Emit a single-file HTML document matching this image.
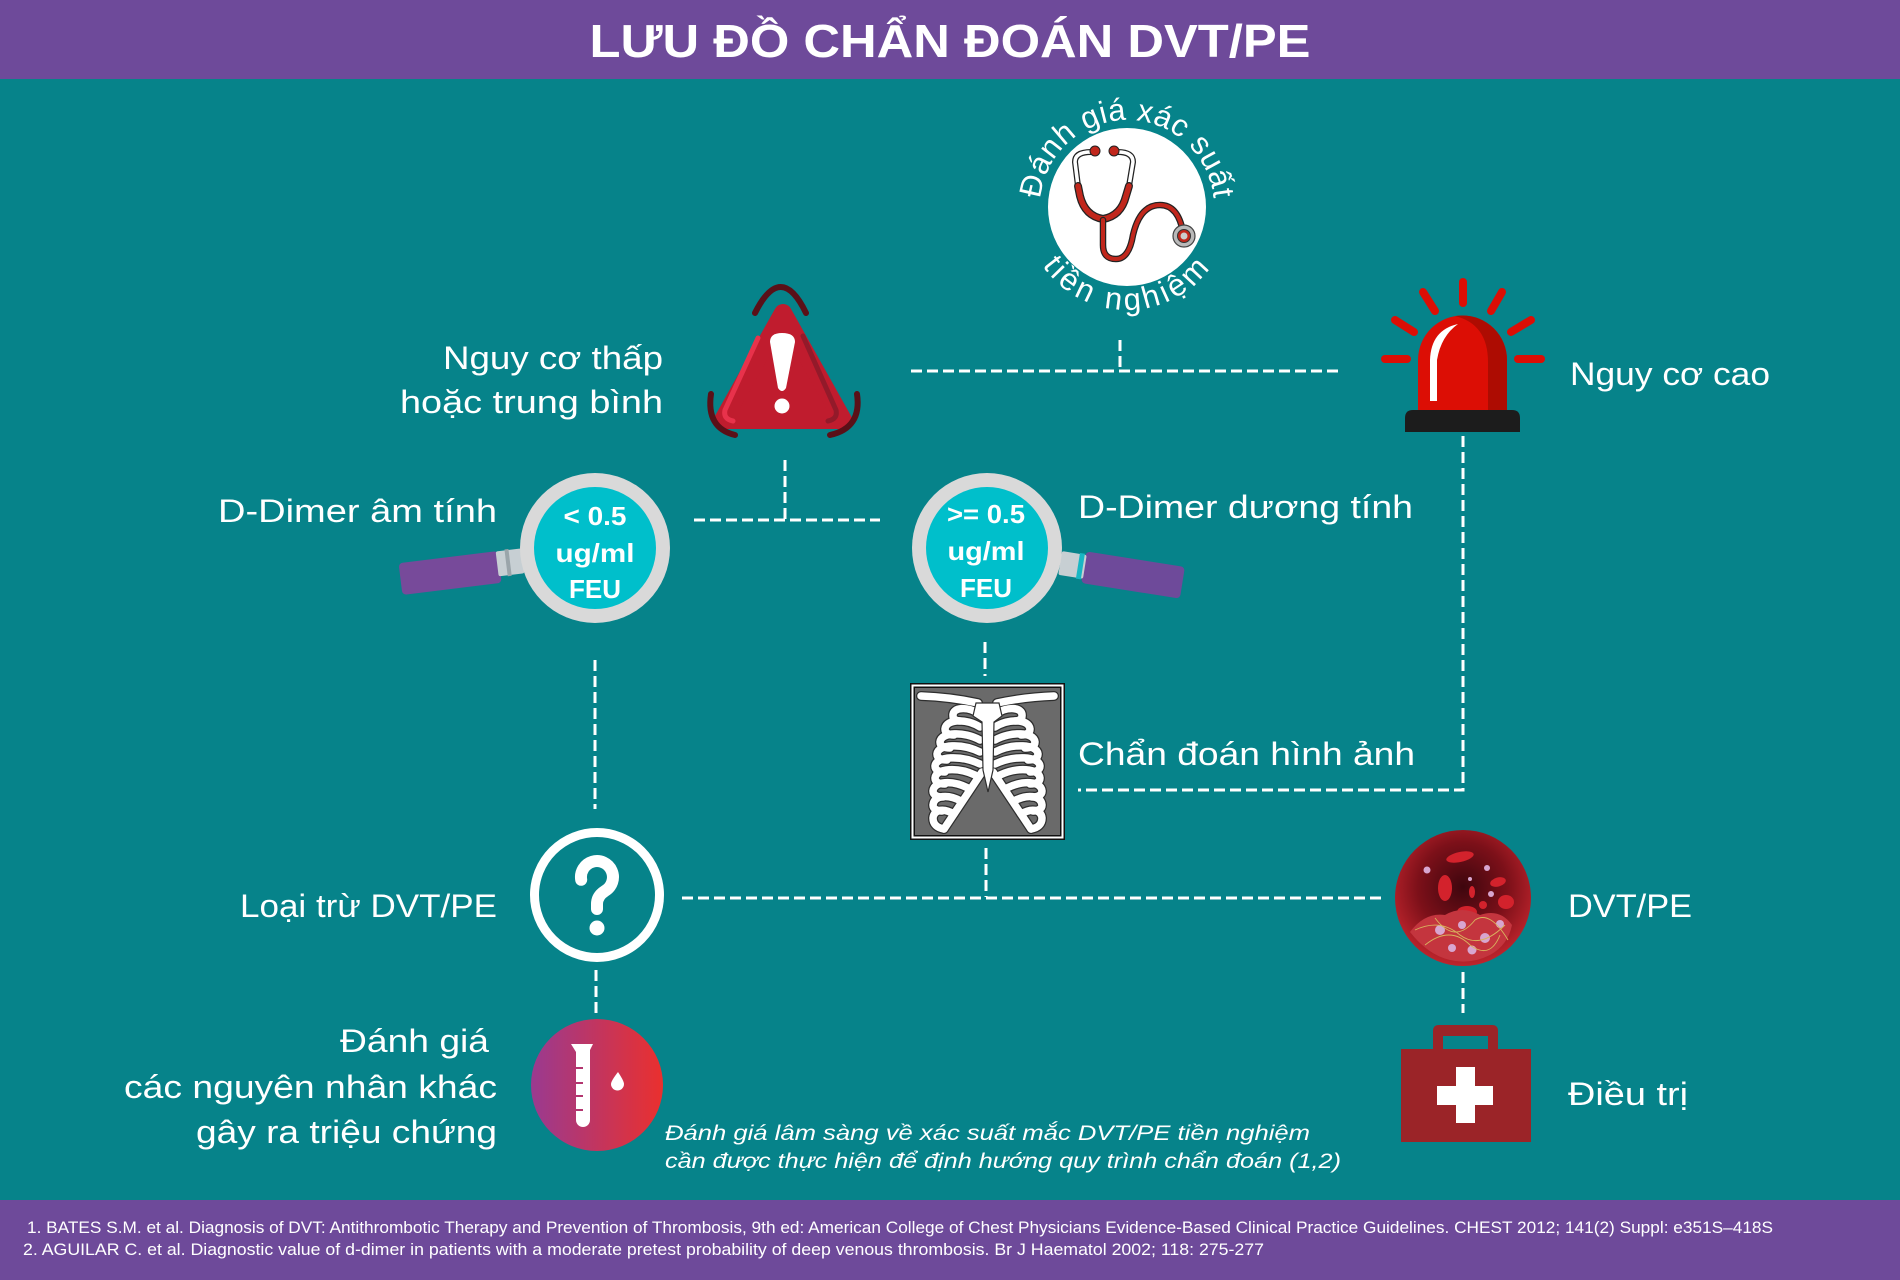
<!DOCTYPE html>
<html><head><meta charset="utf-8"><style>
html,body{margin:0;padding:0;background:#06838a;}
svg{display:block;}
text{font-family:"Liberation Sans","Noto Sans CJK SC",sans-serif;fill:#fff;}
</style></head><body>
<svg width="1900" height="1280" viewBox="0 0 1900 1280" xmlns="http://www.w3.org/2000/svg">
<defs>
<linearGradient id="tt" x1="0" y1="0" x2="1" y2="0">
<stop offset="0" stop-color="#9a3a90"/><stop offset="1" stop-color="#ea302e"/>
</linearGradient>
<radialGradient id="bl" cx="0.5" cy="0.42" r="0.6">
<stop offset="0" stop-color="#3e060e"/><stop offset="0.55" stop-color="#7c1019"/><stop offset="1" stop-color="#c4262e"/>
</radialGradient>
<path id="arcTop" d="M1040,207 A87,87 0 0 1 1214,207"/>
<path id="arcBot" d="M1024,207 A103,103 0 0 0 1230,207"/>
<g id="ribs">
<path d="M921,696 Q950,697 978,703"/>
<path d="M979,714 C968,706 952,707 953,716 C953,719 956,721 960,721"/>
<path d="M980,727 C966,718 946,719 945,729 C945,733 949,735 954,735"/>
<path d="M980,740 C964,731 941,732 940,742 C940,746 944,748 950,748"/>
<path d="M980,752 C962,743 938,744 937,754 C937,758 941,760 947,760"/>
<path d="M980,764 C961,755 936,756 935,766 C935,770 939,772 945,772"/>
<path d="M975,775 C958,767 936,768 935,778 C935,782 939,784 945,784"/>
<path d="M968,788 C952,780 934,781 933,791 C933,795 937,797 943,797"/>
<path d="M961,801 C948,794 934,795 933,805 C933,809 937,811 942,811"/>
<path d="M954,814 C944,808 934,809 933,818 C933,824 937,828 944,829"/>
<path d="M982,772 L944,829"/>
</g>
</defs>

<!-- header -->
<rect x="0" y="0" width="1900" height="79" fill="#6e4a9a"/>
<text x="950" y="57" text-anchor="middle" font-weight="bold" font-size="46" textLength="721" lengthAdjust="spacingAndGlyphs">LƯU ĐỒ CHẨN ĐOÁN DVT/PE</text>

<!-- footer -->
<rect x="0" y="1200" width="1900" height="80" fill="#6e4a9a"/>
<text x="27" y="1233" font-size="17" textLength="1746" lengthAdjust="spacingAndGlyphs">1. BATES S.M. et al. Diagnosis of DVT: Antithrombotic Therapy and Prevention of Thrombosis, 9th ed: American College of Chest Physicians Evidence-Based Clinical Practice Guidelines. CHEST 2012; 141(2) Suppl: e351S–418S</text>
<text x="23" y="1255" font-size="17" textLength="1241" lengthAdjust="spacingAndGlyphs">2. AGUILAR C. et al. Diagnostic value of d-dimer in patients with a moderate pretest probability of deep venous thrombosis. Br J Haematol 2002; 118: 275-277</text>

<!-- dashed connectors -->
<g stroke="#fff" stroke-width="3" stroke-dasharray="11 5" fill="none">
<path d="M911,371 H1340"/>
<path d="M1120,340 V371"/>
<path d="M694,520 H880"/>
<path d="M785,460 V520"/>
<path d="M595,660 V809"/>
<path d="M985,642 V676"/>
<path d="M1463,436 V790 H1078"/>
<path d="M986,848 V897"/>
<path d="M682,898 H1381"/>
<path d="M596,970 V1013"/>
<path d="M1463,972 V1013"/>
</g>

<!-- stethoscope node -->
<circle cx="1127" cy="207" r="79" fill="#fff"/>
<text font-size="31" letter-spacing="0.5"><textPath href="#arcTop" startOffset="50%" text-anchor="middle">Đánh giá xác suất</textPath></text>
<text font-size="31" letter-spacing="3.5"><textPath href="#arcBot" startOffset="50%" text-anchor="middle">tiền nghiệm</textPath></text>
<g fill="none" stroke-linecap="round" stroke-linejoin="round">
<path d="M1091,152 Q1075,152 1075,162 L1078,186" stroke="#222" stroke-width="6"/>
<path d="M1091,152 Q1075,152 1075,162 L1078,186" stroke="#fff" stroke-width="3.5"/>
<path d="M1118,152 Q1133,152 1133,162 L1129,186" stroke="#222" stroke-width="6"/>
<path d="M1118,152 Q1133,152 1133,162 L1129,186" stroke="#fff" stroke-width="3.5"/>
<path d="M1078,186 L1080,196 Q1085,216 1103,219 Q1121,216 1126,196 L1129,186" stroke="#222" stroke-width="8"/>
<path d="M1078,186 L1080,196 Q1085,216 1103,219 Q1121,216 1126,196 L1129,186" stroke="#c1271c" stroke-width="5.5"/>
<path d="M1103,220 L1103,245 Q1103,259 1116,259 Q1129,259 1133,235 Q1140,205 1160,205 Q1178,205 1183,232" stroke="#222" stroke-width="6.5"/>
<path d="M1103,220 L1103,245 Q1103,259 1116,259 Q1129,259 1133,235 Q1140,205 1160,205 Q1178,205 1183,232" stroke="#c1271c" stroke-width="4"/>
</g>
<circle cx="1095" cy="151" r="5" fill="#c1271c" stroke="#222" stroke-width="1"/>
<circle cx="1114" cy="151" r="5" fill="#c1271c" stroke="#222" stroke-width="1"/>
<circle cx="1184" cy="236" r="11" fill="#b9b9b9" stroke="#444" stroke-width="1.2"/>
<circle cx="1184" cy="236" r="6.5" fill="#c1271c" stroke="#333" stroke-width="1"/>
<circle cx="1184" cy="236" r="3.5" fill="#ccc"/>

<!-- warning triangle -->
<polygon points="783,313 723,420 843,420" fill="#c01c2e" stroke="#c01c2e" stroke-width="18" stroke-linejoin="round"/>
<path d="M758,338 L725,410 Q723,419 733,421" fill="none" stroke="#e8324b" stroke-width="5" stroke-linecap="round"/>
<path d="M803,336 L836,410 Q838,419 828,421" fill="none" stroke="#931a2a" stroke-width="5" stroke-linecap="round"/>
<path d="M770,342 Q770,333 782,333 Q795,333 795,342 L786,388 Q782,394 778,388 Z" fill="#fff"/>
<circle cx="782" cy="406" r="7.5" fill="#fff"/>
<g fill="none" stroke="#5a1018" stroke-width="6" stroke-linecap="round">
<path d="M755,313 Q781,261 806,313"/>
<path d="M711,394 Q706,428 735,435"/>
<path d="M857,394 Q862,428 830,435"/>
</g>
<text x="443" y="369" font-size="32" textLength="220" lengthAdjust="spacingAndGlyphs">Nguy cơ thấp</text>
<text x="400" y="413" font-size="32" textLength="263" lengthAdjust="spacingAndGlyphs">hoặc trung bình</text>

<!-- siren -->
<g stroke="#dc0e05" stroke-width="8" stroke-linecap="round">
<path d="M1463,282 V303"/>
<path d="M1423,292 L1435,311"/>
<path d="M1502,292 L1491,311"/>
<path d="M1395,320 L1414,332"/>
<path d="M1531,320 L1511,332"/>
<path d="M1385,359 H1407"/>
<path d="M1518,359 H1541"/>
</g>
<path d="M1418,411 V360 A44.5,44.5 0 0 1 1507,360 V411 Z" fill="#dc0e05"/>
<path d="M1462,315.5 A44.5,44.5 0 0 1 1507,360 V411 H1488 V362 Q1488,324 1455,316 Z" fill="#ad0c02"/>
<path d="M1430,401 V360 Q1431,330 1458,324 Q1441,336 1437,360 V401 Z" fill="#fff"/>
<path d="M1405,432 V418 Q1405,410 1413,410 H1512 Q1520,410 1520,418 V432 Z" fill="#1c1c1c"/>
<text x="1570" y="385" font-size="32" textLength="200" lengthAdjust="spacingAndGlyphs">Nguy cơ cao</text>

<!-- left magnifier -->
<g transform="rotate(-7 450 572)">
<rect x="400" y="557" width="100" height="32" rx="4" fill="#774a9a"/>
</g>
<g transform="rotate(-7 509 562)">
<rect x="497" y="550" width="26" height="25" rx="2" fill="#c7cfd3"/>
<rect x="506" y="549" width="4" height="27" fill="#9aa5aa"/>
</g>
<circle cx="595" cy="548" r="75" fill="#d9d9d9"/>
<circle cx="595" cy="548" r="61" fill="#00bfcb"/>
<g font-weight="bold" font-size="26" text-anchor="middle">
<text x="595" y="525" textLength="63" lengthAdjust="spacingAndGlyphs">&lt; 0.5</text>
<text x="595" y="562" textLength="79" lengthAdjust="spacingAndGlyphs">ug/ml</text>
<text x="595" y="598" textLength="52" lengthAdjust="spacingAndGlyphs">FEU</text>
</g>
<text x="218" y="522" font-size="32" textLength="279" lengthAdjust="spacingAndGlyphs">D-Dimer âm tính</text>

<!-- right magnifier -->
<g transform="rotate(9 1133 575)">
<rect x="1083" y="559" width="100" height="32" rx="4" fill="#6e4a9a"/>
</g>
<g transform="rotate(9 1073 565)">
<rect x="1060" y="553" width="25" height="24" rx="2" fill="#c7cfd3"/>
<rect x="1078" y="552" width="5" height="26" fill="#18b7c4"/>
</g>
<circle cx="987" cy="548" r="75" fill="#d9d9d9"/>
<circle cx="987" cy="548" r="61" fill="#00bfcb"/>
<g font-weight="bold" font-size="26" text-anchor="middle">
<text x="986" y="523" textLength="78" lengthAdjust="spacingAndGlyphs">&gt;= 0.5</text>
<text x="986" y="560" textLength="77" lengthAdjust="spacingAndGlyphs">ug/ml</text>
<text x="986" y="597" textLength="52" lengthAdjust="spacingAndGlyphs">FEU</text>
</g>
<text x="1078" y="518" font-size="32" textLength="335" lengthAdjust="spacingAndGlyphs">D-Dimer dương tính</text>

<!-- x-ray -->
<rect x="910" y="683" width="155" height="157" fill="#111"/>
<rect x="912.5" y="685.5" width="150" height="152" fill="none" stroke="#fff" stroke-width="2"/>
<rect x="915" y="688" width="145" height="147" fill="#6a6a6a"/>
<g fill="none" stroke-linecap="round" stroke-linejoin="round">
<use href="#ribs" stroke="#2e2e2e" stroke-width="10"/>
<use href="#ribs" stroke="#fff" stroke-width="7.5"/>
<g transform="matrix(-1,0,0,1,1975,0)">
<use href="#ribs" stroke="#2e2e2e" stroke-width="10"/>
<use href="#ribs" stroke="#fff" stroke-width="7.5"/>
</g>
</g>
<path d="M976,703 L999,703 L1002,716 L994,722 L993,770 L988,792 L983,770 L982,722 L973,716 Z" fill="#fff" stroke="#2e2e2e" stroke-width="1.2"/>
<text x="1078" y="765" font-size="32" textLength="337" lengthAdjust="spacingAndGlyphs">Chẩn đoán hình ảnh</text>

<!-- question node -->
<circle cx="597" cy="895" r="62.5" fill="none" stroke="#fff" stroke-width="9"/>
<path d="M581.2,879.8 A16,16 0 1 1 605,890.9 Q597,896 597,904 V909" fill="none" stroke="#fff" stroke-width="12" stroke-linecap="round"/>
<circle cx="597" cy="928" r="7.5" fill="#fff"/>
<text x="240" y="917" font-size="32" textLength="257" lengthAdjust="spacingAndGlyphs">Loại trừ DVT/PE</text>

<!-- blood node -->
<circle cx="1463" cy="898" r="68" fill="url(#bl)"/>
<g fill="#d3222c">
<ellipse cx="1460" cy="857" rx="14" ry="5" transform="rotate(-12 1460 857)"/>
<ellipse cx="1445" cy="888" rx="7" ry="13"/>
<ellipse cx="1498" cy="882" rx="8" ry="4.5" transform="rotate(-15 1498 882)"/>
<ellipse cx="1506" cy="902" rx="8" ry="7"/>
<ellipse cx="1472" cy="892" rx="3" ry="6"/>
<ellipse cx="1467" cy="912" rx="10" ry="6"/>
<ellipse cx="1483" cy="905" rx="4" ry="4"/>
</g>
<path d="M1410,932 Q1425,912 1445,915 Q1462,905 1480,915 Q1500,908 1512,925 Q1508,945 1490,955 Q1470,965 1450,960 Q1428,955 1410,932 Z" fill="#c4353e"/>
<g fill="#d8a6d0">
<circle cx="1440" cy="930" r="5"/><circle cx="1462" cy="925" r="4"/><circle cx="1485" cy="938" r="5"/>
<circle cx="1452" cy="948" r="4"/><circle cx="1472" cy="950" r="4.5"/><circle cx="1500" cy="924" r="4"/>
<circle cx="1427" cy="870" r="3.5"/><circle cx="1487" cy="868" r="3"/><circle cx="1470" cy="879" r="2"/><circle cx="1491" cy="894" r="3"/>
</g>
<g fill="none" stroke="#d9b45e" stroke-width="0.9">
<path d="M1415,930 Q1440,918 1460,935 Q1480,950 1505,925"/>
<path d="M1425,945 Q1450,925 1470,945 Q1490,960 1500,935"/>
<path d="M1435,918 Q1455,945 1475,920 Q1490,910 1508,940"/>
</g>
<text x="1568" y="917" font-size="32" textLength="124" lengthAdjust="spacingAndGlyphs">DVT/PE</text>

<!-- test tube node -->
<circle cx="597" cy="1085" r="66" fill="url(#tt)"/>
<path d="M571,1044 L593,1044 L590,1050 V1120 A7,7 0 0 1 576,1120 V1052 Z" fill="#fff"/>
<g stroke="#b3356f" stroke-width="2">
<path d="M576,1068 H583"/><path d="M576,1083 H583"/><path d="M576,1096 H583"/><path d="M576,1110 H583"/>
</g>
<path d="M618,1072 Q611,1081 611,1084 A6.5,6.5 0 0 0 624,1084 Q624,1081 618,1072 Z" fill="#fff"/>
<text x="340" y="1052" font-size="32" textLength="149" lengthAdjust="spacingAndGlyphs">Đánh giá</text>
<text x="124" y="1098" font-size="32" textLength="373" lengthAdjust="spacingAndGlyphs">các nguyên nhân khác</text>
<text x="196" y="1143" font-size="32" textLength="301" lengthAdjust="spacingAndGlyphs">gây ra triệu chứng</text>

<!-- first aid kit -->
<path d="M1433,1049 V1031 Q1433,1025 1439,1025 H1492 Q1498,1025 1498,1031 V1049 H1488 V1036 H1443 V1049 Z" fill="#9b2428"/>
<rect x="1401" y="1049" width="130" height="93" fill="#9b2428"/>
<rect x="1456" y="1067" width="19" height="56" fill="#fff"/>
<rect x="1437" y="1086" width="56" height="19" fill="#fff"/>
<text x="1568" y="1105" font-size="32" textLength="120" lengthAdjust="spacingAndGlyphs">Điều trị</text>

<!-- note -->
<text x="665" y="1140" font-size="21" font-style="italic" textLength="645" lengthAdjust="spacingAndGlyphs">Đánh giá lâm sàng về xác suất mắc DVT/PE tiền nghiệm</text>
<text x="665" y="1168" font-size="21" font-style="italic" textLength="676" lengthAdjust="spacingAndGlyphs">cần được thực hiện để định hướng quy trình chẩn đoán (1,2)</text>
</svg>
</body></html>
